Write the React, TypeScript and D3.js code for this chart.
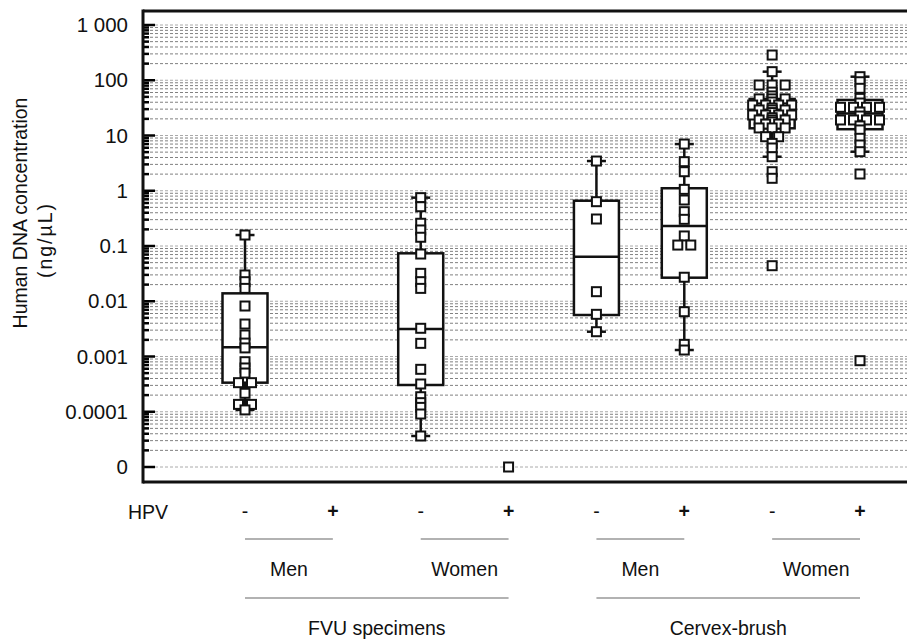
import React from "react";
import * as d3 from "d3";

// groups along the x axis (site / sex / HPV status)
const groups = ["fvu-men-neg", "fvu-men-pos", "fvu-women-neg", "fvu-women-pos", "cb-men-neg", "cb-men-pos", "cb-women-neg", "cb-women-pos"];
const hpvLabels = ["-", "+", "-", "+", "-", "+", "-", "+"];
const sexLabels = ["Men", "Women", "Men", "Women"];
const siteLabels = ["FVU specimens", "Cervex-brush"];

// y axis ticks (0 is drawn at the 1e-5 position)
const tickValues = [1e-5, 1e-4, 1e-3, 1e-2, 0.1, 1, 10, 100, 1000];
const tickLabels = ["0", "0.0001", "0.001", "0.01", "0.1", "1", "10", "100", "1 000"];

// box plot stats per group (null = no box)
const whiskerLow = [0.000108, null, 0.0000364, null, 0.00281, 0.00131, 4.13, 5.09];
const q1 = [0.000336, null, 0.000305, null, 0.00564, 0.0267, 13.5, 13];
const median = [0.00147, null, 0.00315, null, 0.064, 0.23, 25, 25];
const q3 = [0.0139, null, 0.0737, null, 0.66, 1.11, 45.8, 44];
const whiskerHigh = [0.158, null, 0.75, null, 3.45, 7.0, 143, 116];

// individual measurements (ng/uL)
const fvuMenNeg = [0.158, 0.0299, 0.0226, 0.0171, 0.0082, 0.00387, 0.00245, 0.00175, 0.00143, 0.000805, 0.00062, 0.000502, 0.000336, 0.000336, 0.000216, 0.000136, 0.000136, 0.000108];
const fvuMenPos: number[] = [];
const fvuWomenNeg = [0.75, 0.514, 0.258, 0.195, 0.144, 0.0716, 0.032, 0.0226, 0.0171, 0.00324, 0.00173, 0.000586, 0.000318, 0.000187, 0.000146, 0.00012, 0.000091, 0.0000364];
const fvuWomenPos = [0];
const cbMenNeg = [3.45, 0.634, 0.308, 0.0149, 0.0058, 0.00281];
const cbMenPos = [7.0, 3.36, 2.21, 1.06, 0.68, 0.418, 0.304, 0.152, 0.104, 0.104, 0.0272, 0.00647, 0.00166, 0.00131];
const cbWomenNeg = [286, 143, 82, 82, 82, 61, 52, 46, 46, 46, 40.4, 35.6, 35.6, 35.6, 35.6, 31.5, 29, 29, 29, 26, 23.5, 23.5, 23.5, 23.5, 21, 19.1, 19.1, 19.1, 17.6, 16.1, 16.1, 13.7, 13.7, 13.7, 9.5, 9.5, 7.2, 5.94, 4.13, 2.21, 1.68, 0.044];
const cbWomenPos = [116, 94, 71.5, 47, 38.7, 32.4, 32.4, 32.4, 32.4, 26.6, 22.5, 19.1, 19.1, 19.1, 19.1, 14.9, 12.6, 8.9, 6.73, 5.09, 2.01, 0.00084];

const pointSets = [fvuMenNeg, fvuMenPos, fvuWomenNeg, fvuWomenPos, cbMenNeg, cbMenPos, cbWomenNeg, cbWomenPos];

const W = 907;
const H = 642;
const font = "'Liberation Sans', Arial, Helvetica, sans-serif";

// spread identical values side by side
function spread(vals: number[], gap: number) {
  const counts = d3.rollup(vals, v => v.length, d => d);
  const seen = new Map<number, number>();
  return vals.map(v => {
    const n = counts.get(v) || 1;
    const i = seen.get(v) || 0;
    seen.set(v, i + 1);
    return { v, off: (i - (n - 1) / 2) * gap };
  });
}

export default function App() {
  const left = 143, top = 11, bottom = 482;
  const x = d3.scalePoint<string>().domain(groups).range([245, 860]);
  const y = d3.scaleLog().domain([1e-5, 1000]).range([467, 25]);
  const yv = (v: number) => y(v === 0 ? 1e-5 : v);

  const grid = y.ticks();
  const isMajor = (v: number) => Math.abs(Math.log10(v) - Math.round(Math.log10(v))) < 1e-9;

  const boxW = 45, capW = 19, sq = 9;

  return (
    <svg width={W} height={H} style={{ position: "absolute", left: 0, top: 0, background: "#fff" }} fontFamily={font}>
      <rect width={W} height={H} fill="#fff" />

      {/* grid lines */}
      {grid.map((v, i) => (
        <line key={"g" + i} x1={left + 2} x2={W} y1={y(v)} y2={y(v)}
          stroke={isMajor(v) ? "#aaa" : "#808080"} strokeWidth={1} strokeDasharray="3,2" />
      ))}

      {/* ticks */}
      {grid.map((v, i) => (
        <line key={"t" + i} x1={left} x2={left + (isMajor(v) ? 12 : 6)} y1={y(v)} y2={y(v)} stroke="#000" strokeWidth={2.5} />
      ))}

      {/* frame */}
      <line x1={left} x2={W} y1={top} y2={top} stroke="#111" strokeWidth={3} />
      <line x1={left} x2={W} y1={bottom} y2={bottom} stroke="#111" strokeWidth={3} />
      <line x1={left} x2={left} y1={top - 1.5} y2={bottom + 1.5} stroke="#111" strokeWidth={3} />

      {/* tick labels */}
      {tickValues.map((v, i) => (
        <text key={"l" + i} x={128} y={y(v)} dy="0.35em" textAnchor="end" fontSize={20.5} fill="#111">{tickLabels[i]}</text>
      ))}

      {/* y title */}
      <text transform="translate(27,213) rotate(-90)" textAnchor="middle" fontSize={19.5} fill="#111">Human DNA concentration</text>
      <text transform="translate(52,240) rotate(-90)" textAnchor="middle" fontSize={19.5} letterSpacing={2} fill="#111">(ng/µL)</text>

      {/* boxes */}
      {groups.map((g, i) => {
        if (q1[i] == null) return null;
        const cx = x(g) as number;
        return (
          <g key={"b" + g}>
            <line x1={cx} x2={cx} y1={y(q3[i] as number)} y2={y(whiskerHigh[i] as number)} stroke="#111" strokeWidth={2.5} />
            <line x1={cx} x2={cx} y1={y(q1[i] as number)} y2={y(whiskerLow[i] as number)} stroke="#111" strokeWidth={2.5} />
            <line x1={cx - capW / 2} x2={cx + capW / 2} y1={y(whiskerHigh[i] as number)} y2={y(whiskerHigh[i] as number)} stroke="#111" strokeWidth={2.5} />
            <line x1={cx - capW / 2} x2={cx + capW / 2} y1={y(whiskerLow[i] as number)} y2={y(whiskerLow[i] as number)} stroke="#111" strokeWidth={2.5} />
            <rect x={cx - boxW / 2} y={y(q3[i] as number)} width={boxW} height={y(q1[i] as number) - y(q3[i] as number)}
              fill="#fff" stroke="#111" strokeWidth={2.5} />
            <line x1={cx - boxW / 2} x2={cx + boxW / 2} y1={y(median[i] as number)} y2={y(median[i] as number)} stroke="#111" strokeWidth={2.5} />
          </g>
        );
      })}

      {/* points */}
      {groups.map((g, i) => {
        const cx = x(g) as number;
        return (
          <g key={"p" + g}>
            {spread(pointSets[i], 13).map((p, j) => (
              <rect key={j} x={cx + p.off - sq / 2} y={yv(p.v) - sq / 2} width={sq} height={sq}
                fill="#fff" stroke="#111" strokeWidth={2} />
            ))}
          </g>
        );
      })}

      {/* x category labels */}
      <text x={128} y={512} dy="0.35em" fontSize={19.5} fill="#111">HPV</text>
      {groups.map((g, i) => (
        <text key={"h" + g} x={x(g)} y={511} dy="0.35em" textAnchor="middle" fontSize={19.5}
          fontWeight={hpvLabels[i] === "+" ? "bold" : "normal"} fill="#111">{hpvLabels[i]}</text>
      ))}
      {sexLabels.map((s, i) => {
        const a = x(groups[i * 2]) as number, b = x(groups[i * 2 + 1]) as number;
        return (
          <g key={"s" + i}>
            <line x1={a} x2={b} y1={539} y2={539} stroke="#666" strokeWidth={1.2} />
            <text x={(a + b) / 2} y={569} dy="0.35em" textAnchor="middle" fontSize={19.5} fill="#111">{s}</text>
          </g>
        );
      })}
      {siteLabels.map((s, i) => {
        const a = x(groups[i * 4]) as number, b = x(groups[i * 4 + 3]) as number;
        return (
          <g key={"site" + i}>
            <line x1={a} x2={b} y1={598} y2={598} stroke="#666" strokeWidth={1.2} />
            <text x={(a + b) / 2} y={628} dy="0.35em" textAnchor="middle" fontSize={19.5} fill="#111">{s}</text>
          </g>
        );
      })}
    </svg>
  );
}
